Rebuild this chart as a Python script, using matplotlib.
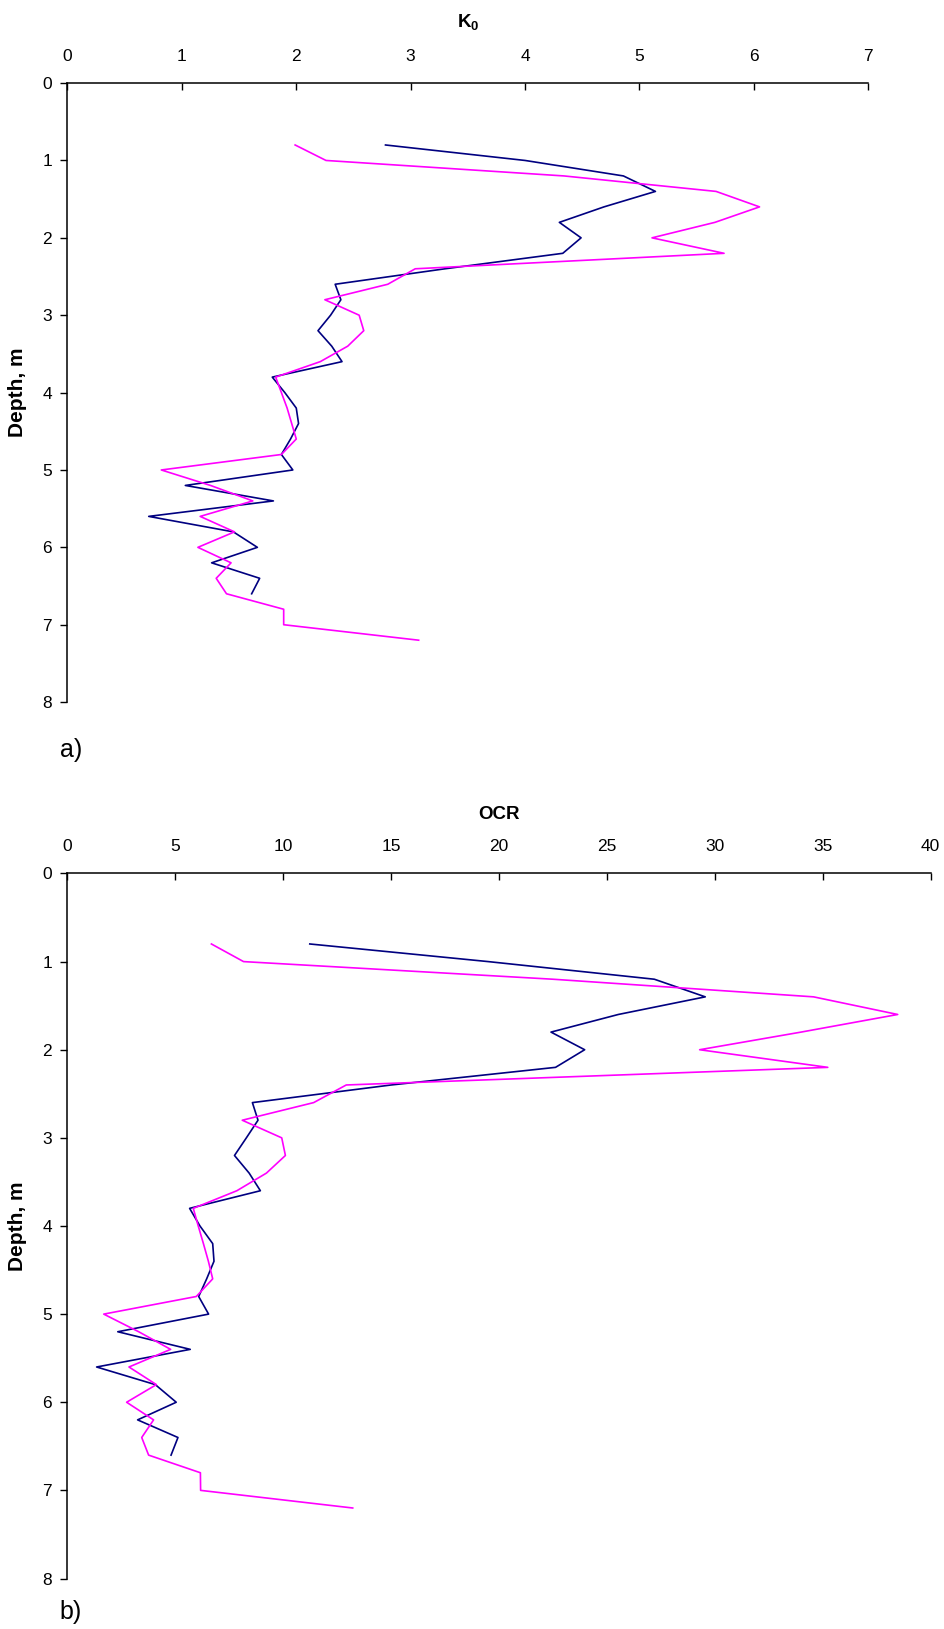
import matplotlib.pyplot as plt
from matplotlib import transforms

plt.rcParams['font.family'] = ['Liberation Sans', 'DejaVu Sans']
plt.rcParams['mathtext.fontset'] = 'custom'
plt.rcParams['mathtext.rm'] = 'Liberation Sans'
plt.rcParams['mathtext.bf'] = 'Liberation Sans:bold'

# depth profiles, m
depth_a = [0.8, 1.0, 1.2, 1.4, 1.6, 1.8, 2.0, 2.2, 2.4, 2.6, 2.8, 3.0, 3.2, 3.4, 3.6,
           3.8, 4.0, 4.2, 4.4, 4.6, 4.8, 5.0, 5.2, 5.4, 5.6, 5.8, 6.0, 6.2, 6.4, 6.6]
depth_b = [0.8, 1.0, 1.2, 1.4, 1.6, 1.8, 2.0, 2.2, 2.4, 2.6, 2.8, 3.0, 3.2, 3.4, 3.6,
           3.8, 4.0, 4.2, 4.4, 4.6, 4.8, 5.0, 5.2, 5.4, 5.6, 5.8, 6.0, 6.2, 6.4, 6.6,
           6.8, 7.0, 7.2]

k0_a = [2.78, 4.00, 4.86, 5.14, 4.69, 4.30, 4.49, 4.33, 3.30, 2.34, 2.39, 2.30, 2.19, 2.31, 2.40,
        1.79, 1.90, 2.00, 2.02, 1.95, 1.87, 1.97, 1.03, 1.80, 0.71, 1.45, 1.66, 1.26, 1.68, 1.61]
k0_b = [1.99, 2.26, 4.34, 5.67, 6.05, 5.66, 5.11, 5.74, 3.04, 2.80, 2.25, 2.55, 2.59, 2.45, 2.21,
        1.82, 1.87, 1.92, 1.96, 2.00, 1.87, 0.82, 1.25, 1.62, 1.16, 1.46, 1.14, 1.43, 1.30, 1.39,
        1.89, 1.89, 3.07]

ocr_a = [11.23, 19.5, 27.2, 29.56, 25.53, 22.41, 23.97, 22.62, 15.0, 8.57, 8.83, 8.29, 7.74, 8.42, 8.94,
         5.66, 6.14, 6.73, 6.79, 6.45, 6.08, 6.54, 2.33, 5.69, 1.35, 4.07, 5.04, 3.25, 5.12, 4.80]
ocr_b = [6.67, 8.16, 22.5, 34.58, 38.48, 34.0, 29.3, 35.24, 12.92, 11.41, 8.1, 9.93, 10.1, 9.22, 7.85,
         5.83, 6.06, 6.30, 6.53, 6.73, 5.97, 1.68, 3.3, 4.78, 2.85, 4.12, 2.74, 3.99, 3.44, 3.76,
         6.16, 6.17, 13.22]

W, H = 944, 1629
fig = plt.figure(figsize=(W / 100, H / 100), dpi=100)
ax1 = fig.add_axes([0.0715, 0.569, 0.9197 - 0.0715, 0.949 - 0.569])
ax2 = fig.add_axes([0.0715, 0.031, 0.9857 - 0.0715, 0.4638 - 0.031])


def style_axis(ax, xmax, xstep, title, title_y):
    ax.set_xlim(0, xmax)
    ax.set_ylim(8, 0)
    ax.set_xticks(range(0, xmax + 1, xstep))
    ax.set_yticks(range(0, 9))
    ax.xaxis.tick_top()
    ax.spines['right'].set_visible(False)
    ax.spines['bottom'].set_visible(False)
    for s in ('left', 'top'):
        ax.spines[s].set_linewidth(1.1)
    ax.tick_params(axis='x', direction='in', length=5, width=1, labelsize=12.5, pad=14)
    ax.tick_params(axis='y', direction='out', length=5, width=1, labelsize=12.5, pad=6)
    ax.set_ylabel('Depth, m', fontsize=15, fontweight='bold')
    # x in figure pixels, y centred on the axes
    trans = transforms.blended_transform_factory(fig.transFigure, ax.transAxes)
    ax.yaxis.set_label_coords(27 / W, 0.5, transform=trans)
    # axis title sits above the top tick labels
    pos = ax.get_position()
    fig.text((pos.x0 + pos.x1) / 2, 1 - title_y / H, title, fontsize=13.5,
             fontweight='bold', ha='center', va='baseline')


ax1.plot(k0_a, depth_a, color='#000080', linewidth=1.2)
ax1.plot(k0_b, depth_b, color='#FF00FF', linewidth=1.2)
style_axis(ax1, 7, 1, r'$\mathbf{K_0}$', 27)

ax2.plot(ocr_a, depth_a, color='#000080', linewidth=1.2)
ax2.plot(ocr_b, depth_b, color='#FF00FF', linewidth=1.2)
style_axis(ax2, 40, 5, 'OCR', 819)

fig.text(71 / W, 1 - 750 / H, 'a)', fontsize=18, ha='center', va='center')
fig.text(71 / W, 1 - 1612 / H, 'b)', fontsize=18, ha='center', va='center')

fig.savefig('out.png', dpi=100)
